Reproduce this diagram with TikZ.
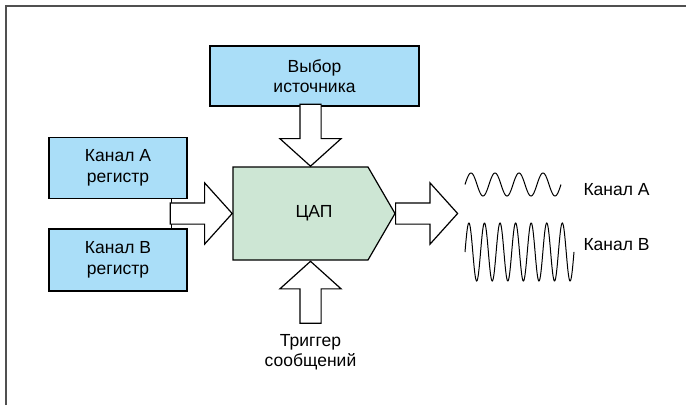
\documentclass[tikz,border=0pt]{standalone}
\usepackage{fontspec}
\setmainfont{Liberation Sans}
\usetikzlibrary{shapes.arrows,backgrounds}
\definecolor{boxblue}{RGB}{170,222,248}
\definecolor{dacgreen}{RGB}{205,230,212}
\definecolor{framegray}{RGB}{80,80,80}

\begin{document}
\begin{tikzpicture}[x=1pt,y=1pt,
	box_node/.style={rectangle,draw,line width=1.2pt,fill=boxblue,minimum width=138pt,minimum height=61pt,align=center,font=\fontsize{17.5}{20.5}\selectfont},
	fat_arrow/.style={single arrow,draw,line width=1.2pt,fill=white,inner xsep=0pt,inner ysep=10pt,minimum height=62pt,minimum width=60pt,single arrow head extend=20pt,single arrow tip angle=96},
	fat_arrow_v/.style={fat_arrow,inner xsep=10pt,inner ysep=0pt},
	txt_node/.style={align=center,font=\fontsize{17.5}{20.5}\selectfont}]
	\useasboundingbox (0,0) rectangle (686,-405);
	\draw[line width=1.5pt,color=framegray] (6,-405) -- (6,-6) -- (686,-6);
	\node[box_node,minimum width=209pt,minimum height=60pt] (src) at (314.5,-76) {Выбор\\источника};
	\node[box_node] (regA) at (118,-168) {Канал А\\регистр};
	\node[box_node,minimum height=62pt] (regB) at (118,-260) {Канал В\\регистр};
	\node[txt_node,minimum width=162pt,minimum height=93pt,outer sep=0pt] (dac) at (314,-213.5) {ЦАП};
	\begin{scope}[on background layer]
		\draw[line width=1.2pt,fill=dacgreen] (dac.north west) -- ([xshift=-27pt]dac.north east) -- (dac.east) -- ([xshift=-27pt]dac.south east) -- (dac.south west) -- cycle;
	\end{scope}
	\draw[line width=1.2pt] ([xshift=-16pt]regA.south east) -- ([xshift=-16pt]regB.north east);
	\node[fat_arrow,anchor=tip] (in_arrow) at (dac.west) {};
	\node[fat_arrow,anchor=tail] (out_arrow) at (dac.east) {};
	\node[fat_arrow_v,shape border rotate=270,anchor=tip] (sel_arrow) at (310.5,-167) {};
	\node[fat_arrow_v,shape border rotate=90,anchor=tip] (trig_arrow) at (310.5,-260.5) {};
	\node[txt_node] (trig) at (310.5,-352) {Триггер\\сообщений};
	\draw[line width=1pt] plot[domain=465:561,samples=200,smooth] (\x,{-184.5+11.5*sin(15*(\x-465))});
	\draw[line width=1pt] plot[domain=465:574,samples=300,smooth] (\x,{-252+29*sin(23.12*(\x-465))});
	\node[txt_node,anchor=west] (chA) at (580,-190) {Канал А};
	\node[txt_node,anchor=west] (chB) at (580,-245) {Канал В};
\end{tikzpicture}
\end{document}
